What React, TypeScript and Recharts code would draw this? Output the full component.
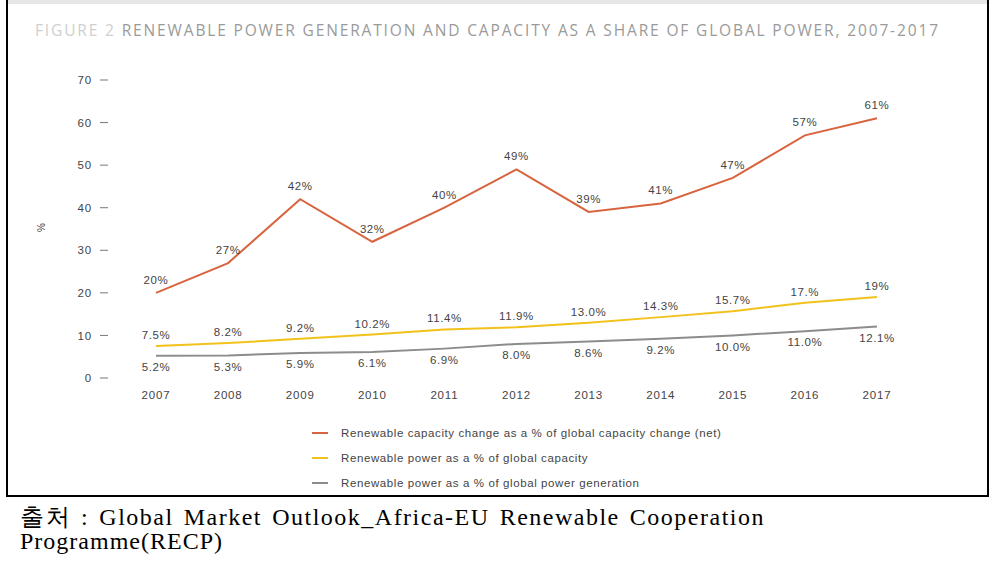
import { LineChart, Line, XAxis, YAxis, LabelList } from "recharts";

const years = ["2007", "2008", "2009", "2010", "2011", "2012", "2013", "2014", "2015", "2016", "2017"];

// Renewable capacity change as a % of global capacity change (net)
const capacityChange = [20, 27, 42, 32, 40, 49, 39, 41, 47, 57, 61];
const capacityChangeLabels = ["20%", "27%", "42%", "32%", "40%", "49%", "39%", "41%", "47%", "57%", "61%"];

// Renewable power as a % of global capacity
const capacityShare = [7.5, 8.2, 9.2, 10.2, 11.4, 11.9, 13.0, 14.3, 15.7, 17.7, 19];
const capacityShareLabels = ["7.5%", "8.2%", "9.2%", "10.2%", "11.4%", "11.9%", "13.0%", "14.3%", "15.7%", "17.%", "19%"];

// Renewable power as a % of global power generation
const generationShare = [5.2, 5.3, 5.9, 6.1, 6.9, 8.0, 8.6, 9.2, 10.0, 11.0, 12.1];
const generationShareLabels = ["5.2%", "5.3%", "5.9%", "6.1%", "6.9%", "8.0%", "8.6%", "9.2%", "10.0%", "11.0%", "12.1%"];

const yTicks = [0, 10, 20, 30, 40, 50, 60, 70];

const seriesNames = [
  "Renewable capacity change as a % of global capacity change (net)",
  "Renewable power as a % of global capacity",
  "Renewable power as a % of global power generation",
];

const ORANGE = "#d8643f";
const YELLOW = "#f2c21b";
const GRAY = "#8c8c8c";
const TEXT = "#444";
const FONT = "'Liberation Sans', Arial, sans-serif";
const seriesColors = [ORANGE, YELLOW, GRAY];

const data = years.map((year, i) => ({
  year,
  change: capacityChange[i],
  changeLabel: capacityChangeLabels[i],
  capacity: capacityShare[i],
  capacityLabel: capacityShareLabels[i],
  generation: generationShare[i],
  generationLabel: generationShareLabels[i],
}));

const tickStyle = { fill: TEXT, fontSize: 11.5, fontFamily: FONT, letterSpacing: 0.8 };
const labelStyle = { fill: TEXT, fontSize: 11.5, fontFamily: FONT, letterSpacing: 0.6 };

export default function App() {
  return (
    <div style={{ position: "absolute", left: 0, top: 0, width: 997, height: 565, background: "#fff", overflow: "hidden" }}>
      <div
        style={{
          position: "absolute",
          left: 6,
          top: -2,
          width: 979,
          height: 495,
          border: "2px solid #000",
          background: "#fff",
        }}
      >
        <div style={{ height: 4, background: "#e6e6e6" }} />
      </div>

      <svg width={997} height={60} style={{ position: "absolute", left: 0, top: 0 }}>
        <text
          x={35}
          y={36}
          textLength={903}
          lengthAdjust="spacing"
          fontFamily="'Open Sans', sans-serif"
          fontSize={15.5}
          fill="#9a9a9a"
        >
          <tspan fill="#cfcfcf">FIGURE 2 </tspan>
          RENEWABLE POWER GENERATION AND CAPACITY AS A SHARE OF GLOBAL POWER, 2007-2017
        </text>
      </svg>

      <div
        style={{
          position: "absolute",
          left: 37,
          top: 222,
          fontFamily: FONT,
          fontSize: 10,
          color: TEXT,
          transform: "rotate(-90deg)",
        }}
      >
        %
      </div>

      <div style={{ position: "absolute", left: 0, top: 0 }}>
        <LineChart
          width={997}
          height={565}
          data={data}
          margin={{ top: 80, right: 71, bottom: 157, left: 48 }}
        >
          <XAxis
            dataKey="year"
            axisLine={false}
            tickLine={false}
            tickMargin={7}
            height={30}
            padding={{ left: 48, right: 49 }}
            tick={tickStyle}
          />
          <YAxis
            domain={[0, 70]}
            ticks={yTicks}
            width={60}
            axisLine={false}
            tickSize={8}
            tickMargin={8}
            tickLine={{ stroke: "#777" }}
            tick={tickStyle}
          />
          <Line
            dataKey="change"
            name={seriesNames[0]}
            stroke={ORANGE}
            strokeWidth={2}
            dot={false}
            isAnimationActive={false}
          >
            <LabelList dataKey="changeLabel" position="top" offset={9} {...labelStyle} />
          </Line>
          <Line
            dataKey="capacity"
            name={seriesNames[1]}
            stroke={YELLOW}
            strokeWidth={2}
            dot={false}
            isAnimationActive={false}
          >
            <LabelList dataKey="capacityLabel" position="top" offset={7} {...labelStyle} />
          </Line>
          <Line
            dataKey="generation"
            name={seriesNames[2]}
            stroke={GRAY}
            strokeWidth={2}
            dot={false}
            isAnimationActive={false}
          >
            <LabelList dataKey="generationLabel" position="bottom" offset={7} {...labelStyle} />
          </Line>
        </LineChart>
      </div>

      <div
        style={{
          position: "absolute",
          left: 312,
          top: 420,
          fontFamily: FONT,
          fontSize: 11.5,
          color: TEXT,
          letterSpacing: 0.6,
        }}
      >
        {seriesNames.map((name, i) => (
          <div key={name} style={{ display: "flex", alignItems: "center", height: 25 }}>
            <span style={{ display: "inline-block", width: 16, height: 2, background: seriesColors[i], marginRight: 13 }} />
            <span>{name}</span>
          </div>
        ))}
      </div>

      <div
        style={{
          position: "absolute",
          left: 20,
          top: 505,
          width: 745,
          fontFamily: "'Liberation Serif', 'DejaVu Serif', serif",
          fontSize: 24,
          lineHeight: "24px",
          color: "#000",
        }}
      >
        <div style={{ textAlign: "justify", textAlignLast: "justify", letterSpacing: 1.5 }}>
          출처 : Global Market Outlook_Africa-EU Renewable Cooperation
        </div>
        <div style={{ letterSpacing: 1 }}>Programme(RECP)</div>
      </div>
    </div>
  );
}
